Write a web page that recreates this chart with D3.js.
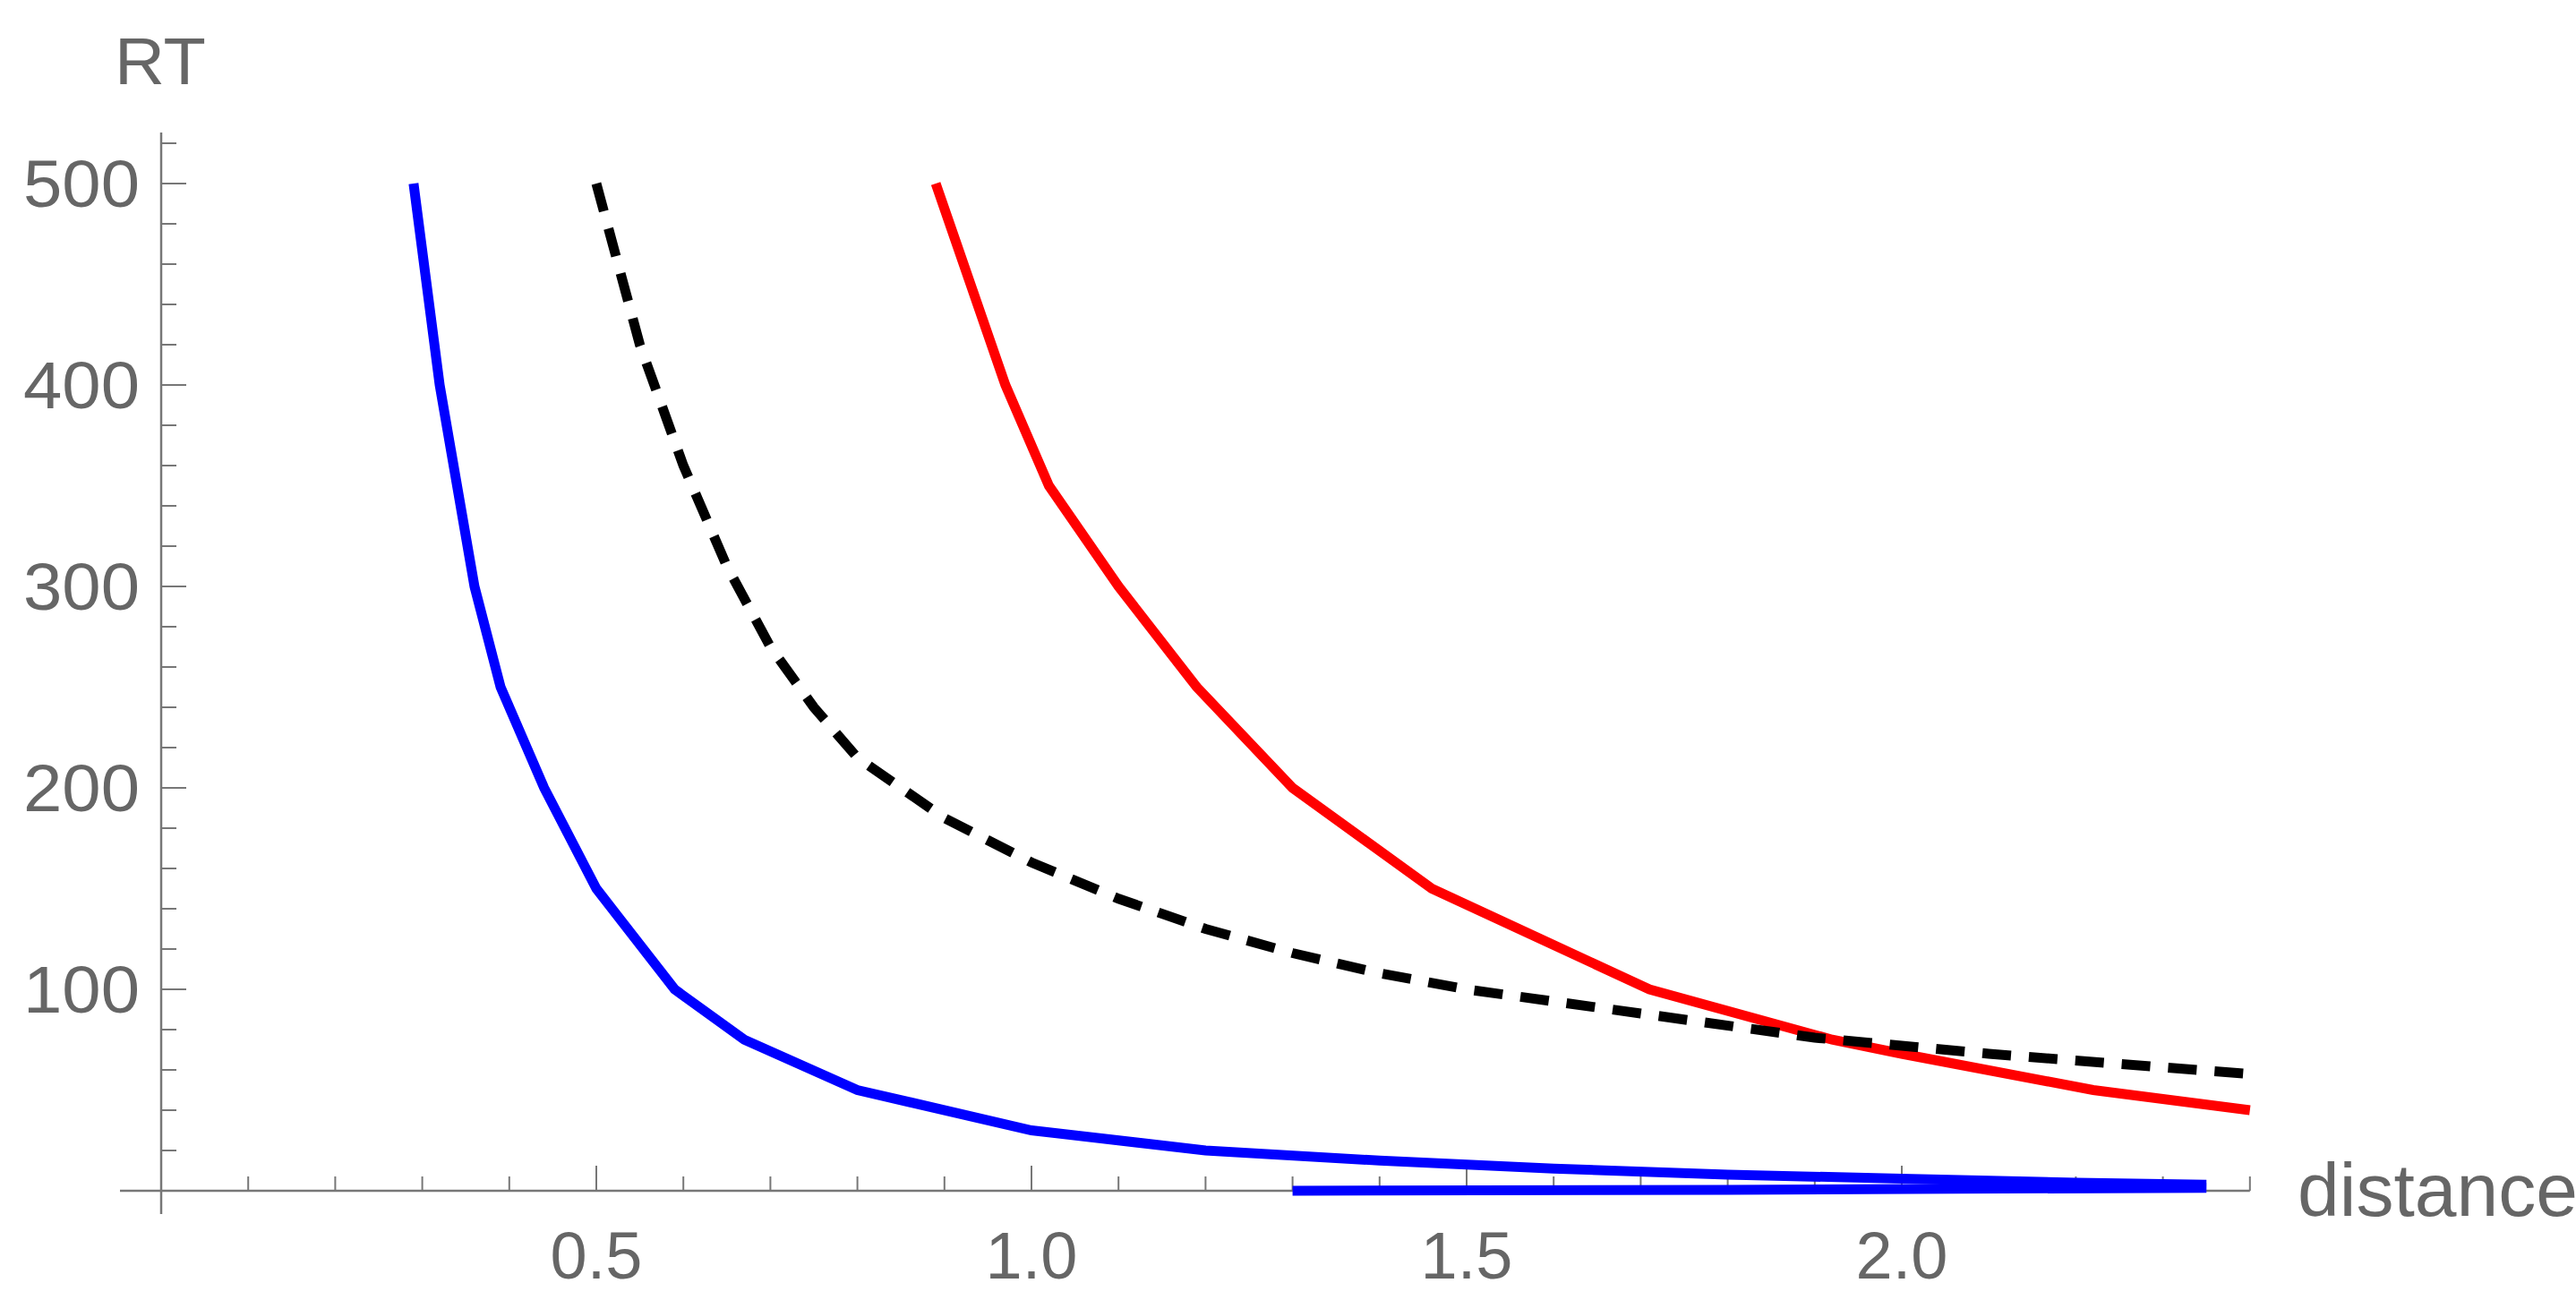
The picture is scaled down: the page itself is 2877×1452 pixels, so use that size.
<!DOCTYPE html>
<html>
<head>
<meta charset="utf-8">
<script src="https://cdn.jsdelivr.net/npm/d3@7"></script>
<style>
  body { margin: 0; background: #fff; }
  text { font-family: "Liberation Sans", Arial, sans-serif; fill: #666; }
</style>
</head>
<body>
<div id="chart"></div>
<script>
const W = 2877, H = 1452;

// data
const blueX = [0.29, 0.32, 0.36, 0.39, 0.44, 0.5, 0.59, 0.67, 0.8, 1.0, 1.2, 1.4, 1.6, 1.8, 2.0, 2.2, 2.35];
const blueY = [500, 400, 300, 250, 200, 150, 100, 75, 50, 30, 20, 15, 11, 8, 6, 4, 3];
const blueFlatX = [1.3, 1.8, 2.35];
const blueFlatY = [0, 0.5, 1.5];
const blackX = [0.5, 0.55, 0.6, 0.65, 0.7, 0.75, 0.8, 0.9, 1.0, 1.1, 1.2, 1.3, 1.4, 1.5, 1.7, 1.9, 2.1, 2.4];
const blackY = [500, 420, 360, 310, 270, 240, 215, 185, 163, 145, 130, 118, 108, 100, 88, 76, 68, 58];
const redX = [0.89, 0.93, 0.97, 1.02, 1.1, 1.19, 1.3, 1.46, 1.71, 1.92, 2.0, 2.22, 2.4];
const redY = [500, 450, 400, 350, 300, 250, 200, 150, 100, 75, 68, 50, 40];
const xTicks = [0.5, 1.0, 1.5, 2.0];
const yTicks = [100, 200, 300, 400, 500];

const x0 = 180, y0 = 1330;
const x = d3.scaleLinear().domain([0, 2]).range([x0, x0 + 2 * 972]);
const y = d3.scaleLinear().domain([0, 500]).range([y0, 205]);

const svg = d3.select("#chart").append("svg")
  .attr("width", W).attr("height", H);

const axisColor = "#777";

// x axis
svg.append("line").attr("x1", 134).attr("x2", x(2.4)).attr("y1", y0).attr("y2", y0)
  .attr("stroke", axisColor).attr("stroke-width", 2.5);
d3.range(1, 25).forEach(i => {
  const v = i / 10, major = i % 5 === 0;
  svg.append("line").attr("x1", x(v)).attr("x2", x(v))
    .attr("y1", y0).attr("y2", y0 - (major ? 28 : 16))
    .attr("stroke", axisColor).attr("stroke-width", 2);
});
svg.selectAll(".xl").data(xTicks).enter().append("text")
  .attr("x", d => x(d)).attr("y", 1428)
  .attr("text-anchor", "middle").attr("font-size", 74)
  .text(d => d.toFixed(1));
svg.append("text").attr("x", 2566).attr("y", 1358)
  .attr("font-size", 84).text("distance");

// y axis
svg.append("line").attr("x1", x0).attr("x2", x0).attr("y1", 148).attr("y2", 1356)
  .attr("stroke", axisColor).attr("stroke-width", 2.5);
d3.range(1, 27).forEach(i => {
  const v = i * 20, major = v % 100 === 0;
  svg.append("line").attr("x1", x0).attr("x2", x0 + (major ? 28 : 17))
    .attr("y1", y(v)).attr("y2", y(v))
    .attr("stroke", axisColor).attr("stroke-width", 2);
});
svg.selectAll(".yl").data(yTicks).enter().append("text")
  .attr("x", 156).attr("y", d => y(d) + 26)
  .attr("text-anchor", "end").attr("font-size", 74)
  .attr("textLength", 130).attr("lengthAdjust", "spacingAndGlyphs")
  .text(d => d);
svg.append("text").attr("x", 128).attr("y", 94)
  .attr("font-size", 74).attr("textLength", 102).attr("lengthAdjust", "spacingAndGlyphs")
  .text("RT");

// curves
const line = d3.line().x(d => x(d[0])).y(d => y(d[1]));
function draw(xs, ys, color, dash) {
  svg.append("path").datum(xs.map((v, i) => [v, ys[i]]))
    .attr("d", line).attr("fill", "none")
    .attr("stroke", color).attr("stroke-width", 11)
    .attr("stroke-dasharray", dash || null);
}
draw(blueFlatX, blueFlatY, "#0000ff");
draw(blueX, blueY, "#0000ff");
draw(redX, redY, "#ff0000");
draw(blackX, blackY, "#000", "32,20");
</script>
</body>
</html>
